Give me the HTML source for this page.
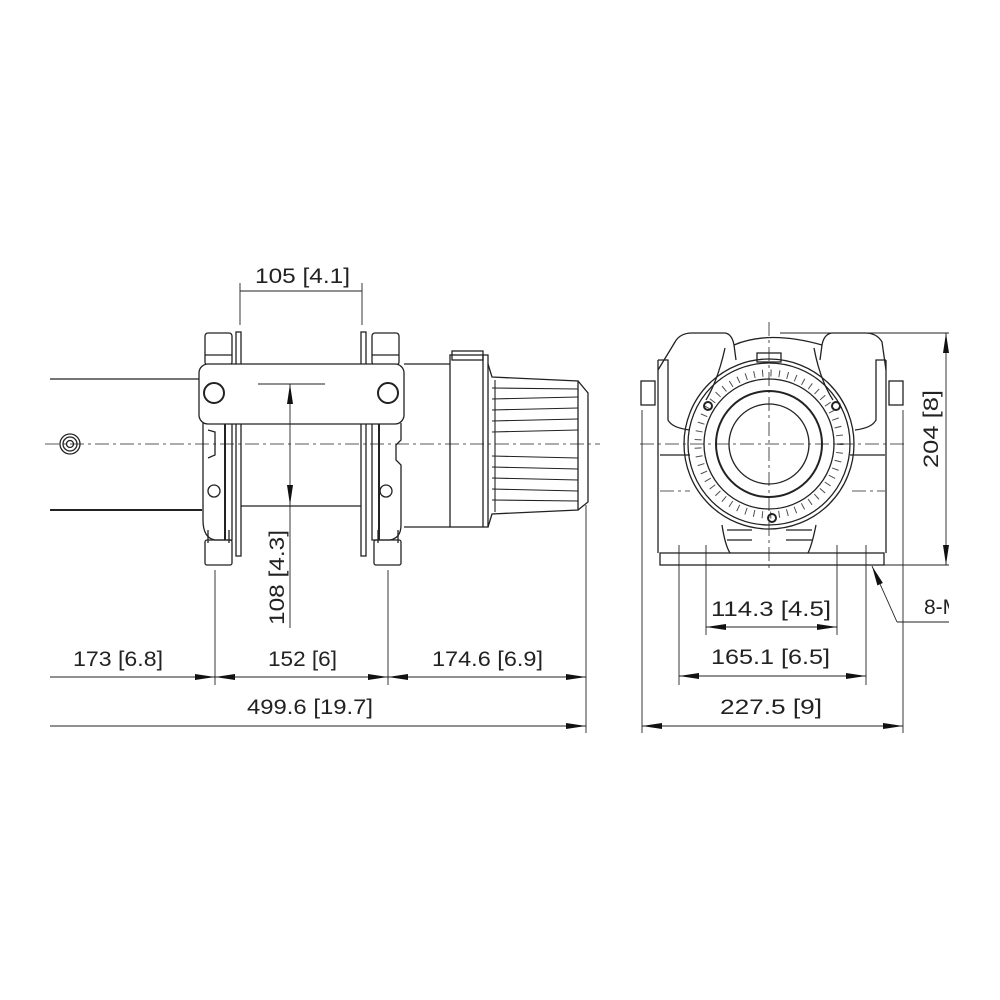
<!DOCTYPE html>
<html><head><meta charset="utf-8"><style>
html,body{margin:0;padding:0;background:#fff;}
svg{display:block;}
text{font-family:"Liberation Sans",sans-serif;font-size:21px;fill:#222;}
</style></head><body>
<svg width="1000" height="1000" viewBox="0 0 1000 1000" xmlns="http://www.w3.org/2000/svg">
<defs>
<marker id="a" viewBox="0 0 20 8" refX="20" refY="4" markerWidth="20" markerHeight="8" markerUnits="userSpaceOnUse" orient="auto-start-reverse"><path d="M0,1 L20,4 L0,7 Z" fill="#111"/></marker>
<clipPath id="c"><rect x="0" y="0" width="949" height="1000"/></clipPath>
</defs>
<g clip-path="url(#c)" stroke="#222" fill="none" stroke-width="1.3">
<!-- LEFT VIEW -->
<line x1="50" y1="379" x2="200" y2="379"/>
<line x1="50" y1="510" x2="202" y2="510" stroke-width="2"/>
<circle cx="70" cy="444" r="10"/><circle cx="70" cy="444" r="7"/><circle cx="70" cy="444" r="3.5"/>
<line x1="45" y1="444" x2="600" y2="444" stroke-width="0.8" stroke-dasharray="14 4 3 4"/>
<rect x="205" y="333" width="27" height="32" rx="3"/>
<line x1="205" y1="355" x2="232" y2="355"/>
<rect x="205" y="540" width="27" height="25" rx="2"/>
<line x1="208" y1="530" x2="208" y2="543"/><line x1="229" y1="530" x2="229" y2="543"/>
<path d="M203,423 L203,520 Q203,538 215,540 L232,540 L232,423"/>
<path d="M208,430 L215,432 L215,455 L208,458"/>
<circle cx="214" cy="491" r="6"/>
<line x1="225" y1="423" x2="225" y2="540" stroke-width="2"/>
<rect x="236" y="332" width="5" height="224"/>
<rect x="372" y="333" width="27" height="32" rx="3"/>
<line x1="372" y1="355" x2="399" y2="355"/>
<rect x="374" y="540" width="27" height="25" rx="2"/>
<line x1="378" y1="530" x2="378" y2="543"/><line x1="398" y1="530" x2="398" y2="543"/>
<path d="M401,423 L401,440 L396,445 L396,460 L401,465 L401,525 Q401,538 390,540 L372,540 L372,423"/>
<circle cx="386" cy="491" r="6"/>
<line x1="379" y1="423" x2="379" y2="540" stroke-width="2"/>
<rect x="361" y="332" width="5" height="224"/>
<line x1="241" y1="506" x2="361" y2="506"/>
<rect x="199" y="364" width="205" height="60" rx="9" fill="#fff"/>
<circle cx="214" cy="393" r="10" stroke-width="2"/>
<circle cx="388" cy="393" r="10" stroke-width="2"/>
<path d="M404,364 L450,364 M404,527 L450,527"/>
<rect x="450" y="355" width="38" height="172"/>
<line x1="483" y1="355" x2="483" y2="527"/>
<rect x="452" y="351" width="31" height="9"/>
<path d="M488,364 L492,377 L578,381 L578,510 L492,514 L488,527"/>
<path d="M578,381 L588,393 L588,502 L578,510"/>
<g stroke-width="1.1">
<line x1="492" y1="388" x2="578" y2="389"/><line x1="492" y1="399" x2="578" y2="397"/>
<line x1="492" y1="410" x2="578" y2="408"/><line x1="492" y1="421" x2="578" y2="419"/>
<line x1="492" y1="432" x2="578" y2="430"/><line x1="492" y1="456" x2="578" y2="458"/>
<line x1="492" y1="467" x2="578" y2="469"/><line x1="492" y1="478" x2="578" y2="480"/>
<line x1="492" y1="489" x2="578" y2="491"/><line x1="492" y1="500" x2="578" y2="501"/>
<line x1="495" y1="380" x2="495" y2="512"/>
</g>
<g stroke-width="0.9">
<line x1="240" y1="283" x2="240" y2="325"/><line x1="362" y1="283" x2="362" y2="325"/>
<line x1="240" y1="291" x2="362" y2="291"/>
<line x1="258" y1="384" x2="325" y2="384"/>
<line x1="290" y1="384" x2="290" y2="505" marker-start="url(#a)" marker-end="url(#a)"/>
<line x1="290" y1="505" x2="290" y2="628"/>
<line x1="215" y1="570" x2="215" y2="685"/>
<line x1="388" y1="570" x2="388" y2="685"/>
<line x1="586" y1="505" x2="586" y2="733"/>
<line x1="50" y1="677" x2="215" y2="677" marker-end="url(#a)"/>
<line x1="215" y1="677" x2="388" y2="677" marker-start="url(#a)" marker-end="url(#a)"/>
<line x1="388" y1="677" x2="586" y2="677" marker-start="url(#a)" marker-end="url(#a)"/>
<line x1="50" y1="726" x2="586" y2="726" marker-end="url(#a)"/>
</g>
<!-- RIGHT VIEW -->
<path d="M658,370 L675,342 Q680,333 692,333 L725,333 Q732,334 734,345 L736,360 M820,360 L822,345 Q824,334 832,333 L865,333 Q877,333 882,342 L886,370"/>
<path d="M734,345 Q769,330 822,345"/>
<path d="M658,360 L658,553 M886,360 L886,553"/>
<path d="M658,360 L668,360 L668,420 Q672,428 690,430 M886,360 L876,360 L876,420 Q872,428 855,430"/>
<path d="M660,455 L690,455 M885,455 L850,455"/>
<path d="M725,348 Q718,380 706,400 M814,348 Q820,380 833,400"/>
<path d="M722,525 Q725,545 730,553 M816,525 Q812,545 808,553"/>
<path d="M727,530 L752,530 M786,530 L812,530 M727,540 L752,540 M786,540 L812,540"/>
<rect x="660" y="553" width="224" height="12"/>
<rect x="641" y="381" width="14" height="24"/><rect x="889" y="381" width="14" height="24"/>
<rect x="757" y="353" width="24" height="9"/>
<circle cx="769" cy="444" r="85"/>
<circle cx="769" cy="444" r="81"/>
<circle cx="769" cy="444" r="71" stroke-width="7" stroke-dasharray="1 7.4" opacity="0.8"/>
<circle cx="769" cy="444" r="65" stroke-width="1.3"/>
<circle cx="769" cy="444" r="53" stroke-width="2"/>
<circle cx="769" cy="444" r="40"/>
<circle cx="708" cy="406" r="4" stroke-width="2"/><circle cx="836" cy="406" r="4" stroke-width="2"/>
<circle cx="772" cy="518" r="4" stroke-width="2"/>
<g stroke-width="0.8" stroke-dasharray="14 4 3 4">
<line x1="769" y1="322" x2="769" y2="570"/>
<line x1="640" y1="444" x2="905" y2="444"/>
<line x1="660" y1="491" x2="690" y2="491"/><line x1="852" y1="491" x2="885" y2="491"/>
</g>
<g stroke-width="0.9">
<line x1="780" y1="333" x2="956" y2="333"/>
<line x1="866" y1="565" x2="956" y2="565"/>
<line x1="946" y1="333" x2="946" y2="565" marker-start="url(#a)" marker-end="url(#a)"/>
<line x1="642" y1="410" x2="642" y2="733"/><line x1="903" y1="410" x2="903" y2="733"/>
<line x1="679" y1="545" x2="679" y2="685"/><line x1="866" y1="545" x2="866" y2="685"/>
<line x1="706" y1="545" x2="706" y2="635"/><line x1="837" y1="545" x2="837" y2="635"/>
<line x1="706" y1="627" x2="837" y2="627" marker-start="url(#a)" marker-end="url(#a)"/>
<line x1="679" y1="676" x2="866" y2="676" marker-start="url(#a)" marker-end="url(#a)"/>
<line x1="642" y1="726" x2="903" y2="726" marker-start="url(#a)" marker-end="url(#a)"/>
<line x1="897" y1="622" x2="872" y2="566" marker-end="url(#a)"/>
<line x1="897" y1="622" x2="960" y2="622"/>
</g>
<g stroke="none">
<text x="255" y="283" textLength="95" lengthAdjust="spacingAndGlyphs">105 [4.1]</text>
<text transform="translate(284,625) rotate(-90)" textLength="95" lengthAdjust="spacingAndGlyphs">108 [4.3]</text>
<text x="73" y="666" textLength="90" lengthAdjust="spacingAndGlyphs">173 [6.8]</text>
<text x="268" y="666" textLength="69" lengthAdjust="spacingAndGlyphs">152 [6]</text>
<text x="432" y="666" textLength="111" lengthAdjust="spacingAndGlyphs">174.6 [6.9]</text>
<text x="247" y="714" textLength="126" lengthAdjust="spacingAndGlyphs">499.6 [19.7]</text>
<text transform="translate(938,468) rotate(-90)" textLength="78" lengthAdjust="spacingAndGlyphs">204 [8]</text>
<text x="711" y="616" textLength="120" lengthAdjust="spacingAndGlyphs">114.3 [4.5]</text>
<text x="711" y="664" textLength="119" lengthAdjust="spacingAndGlyphs">165.1 [6.5]</text>
<text x="720" y="714" textLength="102" lengthAdjust="spacingAndGlyphs">227.5 [9]</text>
<text x="924" y="614">8-M10</text>
</g>
</g>
</svg>
</body></html>
